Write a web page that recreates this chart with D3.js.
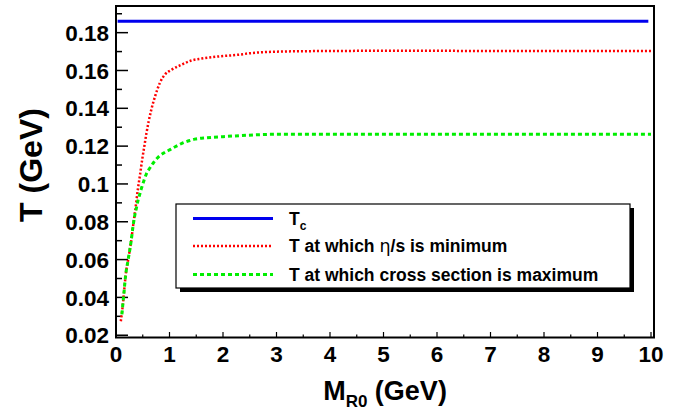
<!DOCTYPE html>
<html>
<head>
<meta charset="utf-8">
<script src="https://cdn.jsdelivr.net/npm/d3@7"></script>
<style>
body { margin: 0; background: #fff; }
text { font-family: "Liberation Sans", Arial, Helvetica, sans-serif; font-weight: bold; }
</style>
</head>
<body>
<script>
var w = 683;
var h = 414;

// T_c, constant
var tcValue = 0.186;
var tcRange = [0.03, 9.95];

// T at which eta/s is minimum
var etaM = [0.09, 0.12, 0.15, 0.18, 0.23, 0.28, 0.32, 0.36, 0.41, 0.45, 0.49, 0.53, 0.57, 0.61, 0.66, 0.73, 0.82, 0.91, 1.04, 1.22, 1.41, 1.6, 1.91, 2.31, 2.5, 3.06, 4, 5, 6, 7, 8, 9, 10];
var etaT = [0.0274, 0.0341, 0.0428, 0.0516, 0.0604, 0.0692, 0.0779, 0.0862, 0.0975, 0.105, 0.113, 0.120, 0.127, 0.133, 0.1393, 0.1463, 0.1534, 0.1577, 0.1604, 0.163, 0.1653, 0.1663, 0.1674, 0.1684, 0.1691, 0.170, 0.1703, 0.1704, 0.1704, 0.1703, 0.1703, 0.1703, 0.1703];

// T at which cross section is maximum
var crossM = [0.11, 0.15, 0.18, 0.23, 0.28, 0.32, 0.35, 0.38, 0.41, 0.445, 0.48, 0.52, 0.57, 0.63, 0.71, 0.79, 0.90, 1.02, 1.13, 1.26, 1.38, 1.47, 1.7, 2.0, 2.35, 2.74, 3.06, 4, 5, 6, 7, 8, 9, 10];
var crossT = [0.031, 0.0428, 0.0516, 0.0604, 0.0692, 0.0779, 0.0832, 0.0871, 0.0911, 0.0946, 0.0981, 0.1016, 0.1055, 0.1083, 0.1116, 0.1142, 0.1165, 0.1183, 0.12, 0.1218, 0.123, 0.1237, 0.1244, 0.125, 0.1256, 0.1261, 0.1263, 0.1263, 0.1263, 0.1263, 0.1263, 0.1263, 0.1263, 0.1263];

var xTicks = [0, 1, 2, 3, 4, 5, 6, 7, 8, 9, 10];
var yTicks = [0.02, 0.04, 0.06, 0.08, 0.1, 0.12, 0.14, 0.16, 0.18];

var legendLabels = ['T', 'T at which ', 'T at which cross section is maximum'];

var pLeft = 116, pRight = 654, pTop = 6, pBottom = 337.5;

var x = d3.scaleLinear().domain([0, 10.056]).range([pLeft, pRight]);
var y = d3.scaleLinear().domain([0.0188, 0.1941]).range([pBottom, pTop]);

var svg = d3.select('body').append('svg').attr('width', w).attr('height', h);

// frame
svg.append('rect')
    .attr('x', pLeft).attr('y', pTop)
    .attr('width', pRight - pLeft).attr('height', pBottom - pTop)
    .attr('fill', 'none').attr('stroke', '#000').attr('stroke-width', 2);

// y axis ticks (inward)
var yMinor = [0.03, 0.05, 0.07, 0.09, 0.11, 0.13, 0.15, 0.17, 0.19];
svg.selectAll('.ymaj').data(yTicks).enter().append('line')
    .attr('x1', pLeft).attr('x2', pLeft + 12)
    .attr('y1', function(d) { return y(d); }).attr('y2', function(d) { return y(d); })
    .attr('stroke', '#000').attr('stroke-width', 1.5);
svg.selectAll('.ymin').data(yMinor).enter().append('line')
    .attr('x1', pLeft).attr('x2', pLeft + 6)
    .attr('y1', function(d) { return y(d); }).attr('y2', function(d) { return y(d); })
    .attr('stroke', '#000').attr('stroke-width', 1.5);
svg.selectAll('.ylab').data(yTicks).enter().append('text')
    .attr('x', 109).attr('y', function(d) { return y(d); })
    .attr('dy', '0.36em')
    .attr('text-anchor', 'end').attr('font-size', 22.5)
    .text(function(d) { return d3.format('')(d); });

// x axis ticks (inward)
var xMinor = [0.5, 1.5, 2.5, 3.5, 4.5, 5.5, 6.5, 7.5, 8.5, 9.5];
svg.selectAll('.xmaj').data(xTicks).enter().append('line')
    .attr('x1', function(d) { return x(d); }).attr('x2', function(d) { return x(d); })
    .attr('y1', pBottom).attr('y2', pBottom - 5.5)
    .attr('stroke', '#000').attr('stroke-width', 1.2);
svg.selectAll('.xmin').data(xMinor).enter().append('line')
    .attr('x1', function(d) { return x(d); }).attr('x2', function(d) { return x(d); })
    .attr('y1', pBottom).attr('y2', pBottom - 3)
    .attr('stroke', '#000').attr('stroke-width', 1.2);
svg.selectAll('.xlab').data(xTicks).enter().append('text')
    .attr('x', function(d) { return x(d); }).attr('y', 362)
    .attr('text-anchor', 'middle').attr('font-size', 22.5)
    .text(function(d) { return d; });

// axis titles
var xt = svg.append('text').attr('x', 385).attr('y', 400)
    .attr('text-anchor', 'middle').attr('font-size', 27);
xt.append('tspan').text('M');
xt.append('tspan').attr('font-size', 17).attr('dy', 7).text('R0');
xt.append('tspan').attr('dy', -7).text(' (GeV)');

svg.append('text')
    .attr('transform', 'translate(42,165) rotate(-90)')
    .attr('text-anchor', 'middle').attr('font-size', 32)
    .text('T (GeV)');

// curves
var line = d3.line()
    .x(function(d) { return x(d[0]); })
    .y(function(d) { return y(d[1]); })
    .curve(d3.curveMonotoneX);

svg.append('path')
    .datum(tcRange.map(function(m) { return [m, tcValue]; }))
    .attr('d', line)
    .attr('fill', 'none').attr('stroke', '#0000ee').attr('stroke-width', 3);

svg.append('path')
    .datum(etaM.map(function(m, i) { return [m, etaT[i]]; }))
    .attr('d', line)
    .attr('fill', 'none').attr('stroke', '#ff0000').attr('stroke-width', 2.5)
    .attr('stroke-dasharray', '2,2');

svg.append('path')
    .datum(crossM.map(function(m, i) { return [m, crossT[i]]; }))
    .attr('d', line)
    .attr('fill', 'none').attr('stroke', '#00ee00').attr('stroke-width', 3)
    .attr('stroke-dasharray', '4,3');

// legend box with shadow
svg.append('rect').attr('x', 180).attr('y', 208).attr('width', 454).attr('height', 84).attr('fill', '#000');
svg.append('rect').attr('x', 176).attr('y', 204).attr('width', 454).attr('height', 84)
    .attr('fill', '#fff').attr('stroke', '#000').attr('stroke-width', 1.2);

var rows = [
    {c: '#0000ee', sw: 3, dash: null},
    {c: '#ff0000', sw: 2.5, dash: '2,2'},
    {c: '#00ee00', sw: 3, dash: '4,3'}
];
var rowY = [218.5, 246, 274.5];

svg.selectAll('.legline').data(rows).enter().append('line')
    .attr('x1', 193).attr('x2', 273)
    .attr('y1', function(d, i) { return rowY[i]; }).attr('y2', function(d, i) { return rowY[i]; })
    .attr('stroke', function(d) { return d.c; })
    .attr('stroke-width', function(d) { return d.sw; })
    .attr('stroke-dasharray', function(d) { return d.dash; });

var lt = svg.selectAll('.legtext').data(legendLabels).enter().append('text')
    .attr('x', 289).attr('y', function(d, i) { return rowY[i]; })
    .attr('dy', '0.36em').attr('font-size', 17.5);
lt.append('tspan').text(function(d) { return d; });
d3.select(lt.nodes()[0]).append('tspan').attr('font-size', 12).attr('dy', 5).text('c');
d3.select(lt.nodes()[1]).append('tspan').attr('font-weight', 'normal').attr('font-family', 'DejaVu Sans').text('η');
d3.select(lt.nodes()[1]).append('tspan').text('/s is minimum');
</script>
</body>
</html>
